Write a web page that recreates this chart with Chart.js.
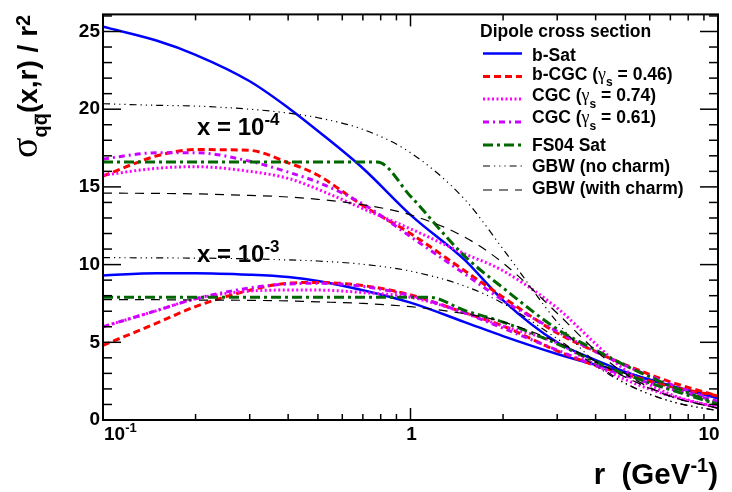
<!DOCTYPE html>
<html>
<head>
<meta charset="utf-8">
<script src="https://cdn.jsdelivr.net/npm/chart.js@4.4.1/dist/chart.umd.min.js"></script>
<style>
  html, body { margin: 0; padding: 0; background: #fff; }
  #box { width: 732px; height: 492px; }
</style>
</head>
<body>
<div id="box"><canvas id="c" width="732" height="492"></canvas></div>
<script>
// dipole size r (GeV^-1) sampling
const rGrid = [0.1, 0.15, 0.2, 0.3, 0.4, 0.5, 0.7, 1, 1.5, 2, 3, 4, 5, 7, 10];

// sigma_qq(x,r)/r^2 at x = 1e-4
const bSat_x4   = [25.3, 24.4, 23.5, 21.8, 20.1, 18.6, 16.2, 13.2, 10.3, 7.7, 5.0, 3.85, 3.1, 2.2, 1.42];
const bCGC_x4   = [15.7, 17.0, 17.4, 17.35, 16.55, 15.75, 13.8, 12.0, 9.6, 7.9, 5.6, 4.4, 3.55, 2.45, 1.55];
const cgc74_x4  = [15.75, 16.2, 16.3, 16.0, 15.55, 14.85, 13.6, 12.3, 10.7, 9.6, 7.2, 4.9, 3.2, 1.65, 0.8];
const cgc61_x4  = [16.8, 17.2, 17.2, 16.65, 15.95, 15.3, 13.9, 11.8, 9.4, 7.7, 5.7, 4.4, 3.5, 2.3, 1.2];
const gbwNC_x4  = [20.35, 20.25, 20.2, 20.0, 19.75, 19.45, 18.7, 17.2, 14.2, 11.0, 6.3, 3.7, 2.37, 1.21, 0.59];
const gbwC_x4   = [14.6, 14.58, 14.55, 14.45, 14.35, 14.2, 13.85, 13.2, 11.77, 10.1, 6.87, 4.47, 2.97, 1.53, 0.75];

// sigma_qq(x,r)/r^2 at x = 1e-3
const bSat_x3   = [9.3, 9.45, 9.45, 9.35, 9.2, 8.95, 8.35, 7.55, 6.3, 5.4, 4.25, 3.55, 3.05, 2.2, 1.42];
const bCGC_x3   = [4.8, 6.25, 7.3, 8.35, 8.8, 8.85, 8.65, 8.05, 6.9, 6.05, 4.45, 3.5, 2.95, 2.15, 1.55];
const cgc74_x3  = [6.0, 7.05, 7.8, 8.3, 8.36, 8.36, 8.2, 7.9, 6.9, 6.05, 4.95, 3.55, 2.6, 1.55, 0.8];
const cgc61_x3  = [6.0, 7.05, 7.8, 8.5, 8.75, 8.8, 8.6, 8.0, 6.9, 5.9, 4.5, 3.5, 2.85, 2.0, 1.2];
const gbwNC_x3  = [10.45, 10.43, 10.42, 10.37, 10.3, 10.23, 10.02, 9.58, 8.62, 7.5, 5.23, 3.48, 2.34, 1.21, 0.59];
const gbwC_x3   = [7.75, 7.74, 7.72, 7.7, 7.66, 7.6, 7.5, 7.29, 6.84, 6.31, 5.01, 3.77, 2.76, 1.52, 0.75];

// FS04 has a kink at the saturation scale, so it gets its own r sampling
const rFS_x4    = [0.1, 0.2, 0.4, 0.6, 0.78, 1, 1.5, 2, 3, 4, 5, 7, 10];
const fs04_x4   = [16.6, 16.6, 16.6, 16.6, 16.6, 14.4, 10.55, 8.5, 5.85, 4.5, 3.5, 2.2, 1.0];
const rFS_x3    = [0.1, 0.2, 0.4, 0.7, 1, 1.15, 1.5, 2, 3, 4, 5, 7, 10];
const fs04_x3   = [7.9, 7.9, 7.9, 7.9, 7.9, 7.9, 7.05, 6.3, 4.9, 3.75, 2.95, 1.95, 1.0];

// axis labelling
const yMajorTicks = [0, 5, 10, 15, 20, 25];
const xDecades = [0.1, 1, 10];

const legendTitle = 'Dipole cross section';

const B = n => `bold ${n}px "Liberation Sans", Arial, sans-serif`;
const G = n => `${n}px "Liberation Serif", "Times New Roman", serif`;

const toPts = (rs, vs) => rs.map((r, i) => ({ x: r, y: vs[i] }));

// model styles; legend entries carry their own rich-text pieces
const models = [
  { key: 'gbwC',  color: '#000000', width: 1.2, dash: [9, 7],
    curves: [[rGrid, gbwC_x4], [rGrid, gbwC_x3]],
    text: [['GBW (with charm)', B(17.5), 0]], base: 193.5, ly: 190 },
  { key: 'gbwNC', color: '#000000', width: 1.2, dash: [7, 4, 1.2, 4, 1.2, 4, 1.2, 4],
    curves: [[rGrid, gbwNC_x4], [rGrid, gbwNC_x3]],
    text: [['GBW (no charm)', B(17.5), 0]], base: 172, ly: 166 },
  { key: 'fs04',  color: '#006600', width: 3, dash: [10, 4, 3, 4],
    curves: [[rFS_x4, fs04_x4], [rFS_x3, fs04_x3]],
    text: [['FS04 Sat', B(17.5), 0]], base: 151, ly: 145 },
  { key: 'cgc61', color: '#cc00ff', width: 3, dash: [6, 4, 2, 4],
    curves: [[rGrid, cgc61_x4], [rGrid, cgc61_x3]],
    text: [['CGC (', B(17.5), 0], ['\u03b3', G(18), 0], ['s', B(12), 6.5], [' = 0.61)', B(17.5), 0]], base: 123, ly: 122 },
  { key: 'cgc74', color: '#ff00ff', width: 3, dash: [2, 2.5],
    curves: [[rGrid, cgc74_x4], [rGrid, cgc74_x3]],
    text: [['CGC (', B(17.5), 0], ['\u03b3', G(18), 0], ['s', B(12), 6.5], [' = 0.74)', B(17.5), 0]], base: 101, ly: 99 },
  { key: 'bCGC',  color: '#ff0000', width: 3, dash: [7, 4],
    curves: [[rGrid, bCGC_x4], [rGrid, bCGC_x3]],
    text: [['b-CGC (', B(17.5), 0], ['\u03b3', G(18), 0], ['s', B(12), 6.5], [' = 0.46)', B(17.5), 0]], base: 79.5, ly: 76.5 },
  { key: 'bSat',  color: '#0000ff', width: 2.5, dash: [],
    curves: [[rGrid, bSat_x4], [rGrid, bSat_x3]],
    text: [['b-Sat', B(17.5), 0]], base: 61, ly: 53.5 }
];

const datasets = [];
models.forEach(m => {
  m.curves.forEach((c, i) => {
    datasets.push({
      label: m.key + (i === 0 ? ' x=1e-4' : ' x=1e-3'),
      data: toPts(c[0], c[1]),
      showLine: true,
      borderColor: m.color,
      backgroundColor: m.color,
      borderWidth: m.width,
      borderDash: m.dash,
      borderCapStyle: 'butt',
      pointRadius: 0,
      fill: false,
      cubicInterpolationMode: 'monotone'
    });
  });
});

// draw a run of text pieces [text, font, dy] starting at x, baseline y
function rich(ctx, x, y, parts, align) {
  let w = 0;
  parts.forEach(p => { ctx.font = p[1]; w += ctx.measureText(p[0]).width; });
  let cx = align === 'right' ? x - w : (align === 'center' ? x - w / 2 : x);
  const pos = [];
  parts.forEach(p => {
    ctx.font = p[1];
    ctx.fillText(p[0], cx, y + (p[2] || 0));
    const pw = ctx.measureText(p[0]).width;
    pos.push([cx, pw]);
    cx += pw;
  });
  return pos;
}

function seg(ctx, x1, y1, x2, y2) {
  ctx.beginPath(); ctx.moveTo(x1, y1); ctx.lineTo(x2, y2); ctx.stroke();
}

const decorations = {
  id: 'decorations',
  afterDatasetsDraw(chart) {
    const { ctx, chartArea: a, scales: { x, y } } = chart;
    ctx.save();
    ctx.fillStyle = '#000';
    ctx.strokeStyle = '#000';
    ctx.textAlign = 'left';
    ctx.textBaseline = 'alphabetic';

    // frame
    ctx.setLineDash([]);
    ctx.lineWidth = 2;
    ctx.strokeRect(a.left, a.top, a.right - a.left, a.bottom - a.top);

    // y ticks on both sides, pointing inward
    ctx.lineWidth = 1.5;
    for (let v = 0; v <= Math.floor(y.max); v++) {
      const p = y.getPixelForValue(v);
      const len = v % 5 === 0 ? 18 : 9;
      seg(ctx, a.left, p, a.left + len, p);
      seg(ctx, a.right, p, a.right - len, p);
    }
    // x ticks on both sides (log decades)
    for (const d of [0.1, 1]) {
      for (let k = 1; k <= 9; k++) {
        const v = d * k;
        const p = x.getPixelForValue(v);
        const len = k === 1 ? 12 : 6;
        seg(ctx, p, a.bottom, p, a.bottom - len);
        seg(ctx, p, a.top, p, a.top + len);
      }
    }

    // x tick labels
    const p01 = x.getPixelForValue(xDecades[0]);
    const p1 = x.getPixelForValue(xDecades[1]);
    const p10 = x.getPixelForValue(xDecades[2]);
    rich(ctx, p01 + 1, 440, [['10', B(19), 0], ['-1', B(13), -8]], 'left');
    rich(ctx, p1 + 1, 440, [['1', B(19), 0]], 'center');
    rich(ctx, p10 - 9, 440, [['10', B(19), 0]], 'center');

    // x title
    rich(ctx, a.right, 484, [['r  (GeV', B(29.5), 0], ['-1', B(20), -12], [')', B(29.5), 0]], 'right');

    // y title, rotated
    ctx.save();
    ctx.translate(37, 158);
    ctx.rotate(-Math.PI / 2);
    const tp = rich(ctx, 0, 0, [['\u03c3', G(38), 0], ['q', B(20), 10], ['q', B(20), 10], ['(x,r) / r', B(28), 0], ['2', B(20), -7]], 'left');
    ctx.lineWidth = 1.5;
    seg(ctx, tp[2][0] + 1, -1.5, tp[2][0] + tp[2][1] - 1, -1.5);
    ctx.restore();

    // x labels inside the plot
    rich(ctx, 197, 135, [['x = 10', B(24), 0], ['-4', B(17), -10]], 'left');
    rich(ctx, 197, 262, [['x = 10', B(24), 0], ['-3', B(17), -10]], 'left');

    // legend
    ctx.font = B(17.5);
    ctx.fillText(legendTitle, 480, 37);
    const order = ['bSat', 'bCGC', 'cgc74', 'cgc61', 'fs04', 'gbwNC', 'gbwC'];
    order.forEach(k => {
      const m = models.find(mm => mm.key === k);
      ctx.save();
      ctx.strokeStyle = m.color;
      ctx.lineWidth = m.width;
      ctx.setLineDash(m.dash);
      ctx.lineCap = 'butt';
      seg(ctx, 483, m.ly, 522, m.ly);
      ctx.restore();
      rich(ctx, 532, m.base, m.text, 'left');
    });

    ctx.restore();
  }
};

new Chart(document.getElementById('c'), {
  type: 'scatter',
  data: { datasets },
  options: {
    responsive: false,
    animation: false,
    events: [],
    layout: { padding: { left: 0, right: 14, top: 10, bottom: 0 } },
    plugins: { legend: { display: false }, tooltip: { enabled: false } },
    scales: {
      x: {
        type: 'logarithmic',
        min: 0.1, max: 10,
        grid: { display: false },
        border: { display: false },
        ticks: { display: false },
        afterFit: s => { s.height = 72; }
      },
      y: {
        type: 'linear',
        min: 0, max: 26.1,
        grid: { display: false, drawTicks: false },
        border: { display: false },
        afterBuildTicks: s => { s.ticks = yMajorTicks.map(v => ({ value: v })); },
        ticks: {
          color: '#000',
          padding: 3,
          font: { family: '"Liberation Sans", Arial, sans-serif', size: 19, weight: 'bold' }
        },
        afterFit: s => { s.width = 103; }
      }
    }
  },
  plugins: [decorations]
});
</script>
</body>
</html>
